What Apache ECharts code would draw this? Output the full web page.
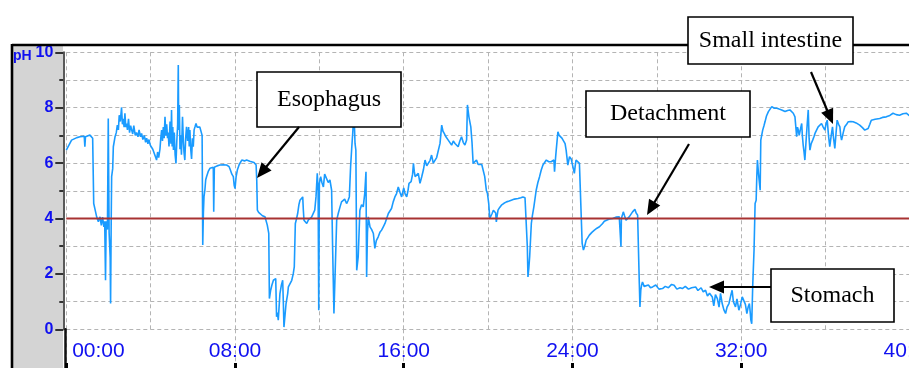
<!DOCTYPE html>
<html>
<head>
<meta charset="utf-8">
<script src="https://cdn.jsdelivr.net/npm/echarts@6/dist/echarts.min.js"></script>
<style>
html,body{margin:0;padding:0;background:#fff;overflow:hidden;width:909px;height:368px;}
#chart{width:940px;height:368px;}
</style>
</head>
<body>
<div id="chart"></div>
<script>
// Tick labels / axes
const yTickValues = [0, 2, 4, 6, 8, 10];
const xLabelHours = [0, 8, 16, 24, 32, 40];
const thresholdPH = 4;

// pH trace, [hours, pH] pairs
const segEarly = [[0,6.47],[0.25,6.83],[0.5,6.92],[0.65,6.95],[0.85,6.97],[0.88,6.59],[0.91,6.95],[1.12,7.01],[1.2,6.98],[1.25,6.9],[1.3,4.54],[1.37,4.3],[1.44,4.06],[1.52,3.88],[1.6,4.06],[1.66,3.75],[1.72,4.05],[1.78,3.7],[1.82,3.9],[1.86,1.77],[1.89,3.9],[1.95,3.6],[1.99,7.61],[2.03,3.5],[2.08,2.6],[2.1,0.93],[2.13,4.0],[2.15,5.51],[2.2,5.8],[2.23,6.59],[2.31,6.95],[2.37,7.1],[2.42,7.37],[2.47,7.2],[2.51,7.73],[2.56,7.5],[2.62,8.01],[2.66,7.4],[2.7,7.6],[2.74,7.3],[2.78,7.8],[2.82,7.3],[2.86,7.43],[2.9,7.2],[2.95,7.6],[3.0,7.1],[3.05,7.35],[3.1,7.19],[3.15,7.05],[3.2,7.35],[3.27,7.0],[3.33,7.1],[3.4,6.95],[3.45,7.2],[3.52,6.95],[3.57,7.07],[3.63,6.85],[3.7,7.0],[3.76,6.75],[3.81,6.9],[3.87,6.7],[3.92,6.85],[3.98,6.65],[4.04,6.7],[4.1,6.5],[4.18,6.45],[4.24,6.2],[4.28,6.11],[4.33,6.4],[4.38,6.2],[4.44,6.5],[4.48,6.9],[4.52,7.19],[4.56,6.8],[4.6,7.3],[4.64,6.9],[4.68,7.67],[4.72,7.0],[4.76,7.4],[4.8,6.9],[4.83,7.1],[4.87,6.6],[4.92,7.5],[4.96,6.7],[4.99,7.92],[5.02,6.6],[5.05,7.3],[5.08,6.47],[5.12,7.1],[5.16,6.3],[5.2,5.99],[5.24,6.8],[5.28,7.4],[5.31,9.54],[5.33,7.2],[5.36,8.1],[5.39,6.5],[5.42,7.0],[5.46,6.3],[5.51,7.67],[5.55,6.8],[5.58,6.4],[5.62,6.11],[5.66,6.9],[5.7,7.31],[5.75,6.8],[5.8,7.3],[5.83,6.6],[5.86,7.19],[5.9,6.5],[5.94,6.15],[5.98,6.9],[6.02,6.59],[6.06,7.2],[6.1,7.3],[6.15,7.43],[6.2,7.3],[6.26,7.37],[6.33,7.3],[6.41,7.31],[6.44,7.0],[6.47,3.04],[6.5,4.2],[6.53,4.8],[6.57,5.02],[6.61,5.4],[6.65,5.51],[6.73,5.7],[6.81,5.81],[6.9,5.85],[6.97,5.85],[6.99,4.24],[7.02,5.85],[7.15,5.9],[7.28,5.93],[7.45,5.94],[7.6,5.93],[7.72,5.87]];

const segEsophagus = [[7.78,5.75],[7.85,5.6],[7.92,5.51],[7.96,5.2],[8.0,5.08],[8.05,5.5],[8.11,5.75],[8.2,5.95],[8.32,6.11],[8.45,6.08],[8.55,6.11],[8.7,6.07],[8.79,6.05],[8.9,6.02],[9.0,5.93],[9.03,5.39],[9.06,4.3],[9.12,4.22],[9.18,4.18],[9.3,4.1],[9.42,4.06],[9.53,3.76],[9.6,3.46],[9.63,1.11],[9.69,1.41],[9.75,1.6],[9.82,1.77],[9.93,1.83],[9.97,0.45],[10.01,0.6],[10.05,0.33],[10.13,1.29],[10.2,1.6],[10.26,1.77],[10.29,1.0],[10.32,0.08],[10.37,0.5],[10.42,0.93],[10.5,1.3],[10.53,1.53],[10.62,1.6],[10.69,1.77],[10.76,2.0],[10.81,2.25],[10.86,3.82],[10.92,4.0],[10.97,4.18],[11.03,4.5],[11.08,4.66],[11.15,4.6],[11.21,4.78],[11.24,4.3],[11.27,3.94],[11.33,3.9],[11.4,3.82],[11.48,3.95],[11.55,3.88],[11.63,4.05],[11.71,4.0],[11.78,4.3],[11.84,4.78],[11.87,5.2],[11.9,5.63],[11.94,5.0],[11.97,0.69],[12.0,5.27],[12.06,5.51],[12.12,5.3],[12.19,5.14],[12.25,5.6],[12.34,5.63],[12.42,5.3],[12.5,5.39],[12.58,5.02],[12.63,2.86],[12.69,0.57],[12.76,2.37],[12.82,3.94],[12.9,4.2],[12.98,4.42],[13.05,4.6],[13.13,4.54],[13.2,4.7],[13.29,4.54],[13.36,4.65],[13.42,4.78],[13.48,5.87],[13.53,6.5],[13.58,7.07],[13.62,7.6],[13.66,7.4],[13.69,6.71],[13.73,6.47],[13.77,2.13],[13.84,2.61],[13.92,4.3],[14.0,4.5],[14.08,4.42],[14.15,4.9],[14.21,5.69],[14.24,1.89],[14.28,3.5],[14.32,4.06],[14.4,3.7],[14.48,3.6],[14.56,3.46],[14.63,2.92],[14.7,3.2],[14.79,3.34],[14.87,3.5],[14.95,3.58],[15.03,3.7],[15.11,3.82],[15.19,4.0],[15.27,4.18],[15.35,4.25],[15.42,4.36],[15.5,4.6],[15.58,4.78],[15.66,4.9],[15.74,5.14],[15.82,4.95],[15.9,4.78]];

const segMiddle = [[16.0,5.1],[16.06,4.9],[16.14,4.78],[16.2,5.0],[16.25,5.27],[16.35,5.33],[16.42,5.6],[16.46,5.99],[16.5,5.7],[16.54,5.51],[16.62,5.55],[16.69,5.63],[16.77,5.27],[16.85,5.5],[16.93,5.75],[17.01,6.11],[17.09,5.9],[17.17,5.87],[17.25,6.1],[17.32,6.29],[17.4,6.0],[17.48,5.99],[17.56,6.2],[17.64,6.23],[17.72,6.71],[17.8,7.37],[17.86,7.15],[17.92,7.07],[18.0,6.95],[18.11,6.83],[18.2,6.9],[18.27,6.65],[18.35,6.8],[18.43,6.71],[18.5,6.75],[18.58,6.59],[18.66,6.8],[18.74,6.95],[18.82,6.75],[18.9,6.65],[18.98,6.83],[19.02,8.1],[19.09,7.67],[19.18,7.31],[19.24,6.71],[19.29,5.99],[19.37,6.05],[19.45,6.11],[19.53,5.95],[19.61,5.93],[19.7,5.95],[19.76,5.93],[19.84,5.51],[19.92,5.0],[19.97,4.9],[20.03,4.54],[20.08,4.0],[20.14,4.1],[20.19,4.18],[20.25,4.3],[20.31,4.36],[20.36,4.2],[20.39,3.88],[20.43,4.1],[20.47,4.3],[20.55,4.4],[20.63,4.48],[20.75,4.55],[20.87,4.6],[21.0,4.63],[21.1,4.66],[21.25,4.7],[21.42,4.72],[21.55,4.75],[21.65,4.78],[21.75,4.75],[21.81,4.69],[21.86,2.98],[21.89,1.89],[21.93,2.2],[21.97,2.61],[22.05,3.82],[22.1,4.1],[22.17,4.42],[22.28,5.02],[22.36,5.3],[22.44,5.51],[22.52,5.75],[22.6,5.93],[22.68,6.0],[22.76,6.11],[22.88,6.05],[22.99,6.05],[23.12,6.11],[23.15,5.69],[23.2,6.2],[23.23,6.47],[23.27,6.8],[23.31,7.13],[23.37,7.0],[23.43,6.95],[23.5,6.9],[23.59,6.83],[23.65,6.7],[23.7,6.47],[23.74,6.2],[23.78,5.93],[23.86,6.23],[23.94,6.15],[24.02,6.11],[24.09,5.63],[24.13,5.9],[24.17,6.11],[24.25,6.05],[24.33,5.99],[24.41,5.93]];

const segStomach = [[24.46,3.1],[24.52,2.86],[24.58,3.0],[24.65,3.22],[24.72,3.3],[24.8,3.4],[24.92,3.5],[25.04,3.58],[25.16,3.65],[25.28,3.7],[25.36,3.75],[25.43,3.82],[25.51,3.9],[25.59,3.94],[25.75,3.98],[25.91,4.0],[26.06,4.05],[26.22,4.06],[26.28,4.0],[26.3,2.98],[26.32,4.0],[26.35,4.06],[26.41,4.24],[26.47,4.1],[26.54,3.94],[26.6,4.0],[26.69,4.06],[26.77,4.15],[26.85,4.24],[26.9,4.3],[26.96,4.33],[27.02,4.2],[27.09,4.12],[27.13,2.86],[27.17,1.65],[27.2,0.81],[27.24,1.41],[27.28,1.6],[27.32,1.71],[27.4,1.55],[27.48,1.53],[27.6,1.6],[27.7,1.5],[27.8,1.53],[27.95,1.6],[28.1,1.45],[28.27,1.47],[28.4,1.55],[28.55,1.5],[28.7,1.62],[28.82,1.59],[28.95,1.45],[29.1,1.5],[29.21,1.47],[29.35,1.55],[29.5,1.45],[29.65,1.5],[29.84,1.53],[29.95,1.4],[30.1,1.5],[30.2,1.35],[30.31,1.41],[30.4,1.2],[30.5,1.3],[30.63,1.17],[30.7,0.85],[30.78,1.25],[30.87,1.11],[30.95,0.8],[31.02,1.3],[31.1,0.93],[31.18,0.7],[31.26,0.57],[31.33,0.8],[31.42,0.93],[31.5,1.2],[31.57,1.41],[31.63,1.0],[31.73,0.81],[31.8,1.1],[31.89,0.69],[31.97,0.9],[32.05,1.17]];

const segIntestine = [[32.11,1.11],[32.2,0.9],[32.27,0.57],[32.33,0.8],[32.39,0.93],[32.43,0.6],[32.46,0.33],[32.5,0.2],[32.55,1.65],[32.61,2.86],[32.66,4.54],[32.71,4.66],[32.74,5.5],[32.77,6.11],[32.82,5.63],[32.9,5.02],[32.93,6.83],[33.02,7.19],[33.08,7.35],[33.13,7.49],[33.2,7.7],[33.29,7.86],[33.37,7.95],[33.45,8.04],[33.57,7.98],[33.69,7.98],[33.8,7.95],[33.92,7.92],[34.0,7.9],[34.08,7.86],[34.2,7.9],[34.31,7.92],[34.4,7.85],[34.47,7.8],[34.55,7.67],[34.63,6.95],[34.67,7.3],[34.71,7.19],[34.75,7.0],[34.79,6.95],[34.83,7.3],[34.87,7.43],[34.9,7.0],[34.94,6.65],[34.98,6.4],[35.02,6.11],[35.06,6.6],[35.1,7.07],[35.14,7.5],[35.18,7.92],[35.22,6.9],[35.26,6.47],[35.32,6.7],[35.39,6.83],[35.45,6.95],[35.5,7.07],[35.58,7.2],[35.65,7.31],[35.73,7.35],[35.81,7.43],[35.89,7.3],[35.97,7.19],[36.02,7.4],[36.08,7.55],[36.14,7.0],[36.2,6.59],[36.27,7.0],[36.33,7.31],[36.38,6.9],[36.44,6.53],[36.5,7.1],[36.55,7.55],[36.62,7.4],[36.68,7.31],[36.72,7.0],[36.76,6.83],[36.84,7.1],[36.91,7.31],[37.0,7.4],[37.07,7.49],[37.2,7.5],[37.31,7.49],[37.45,7.45],[37.62,7.37],[37.75,7.28],[37.86,7.19],[37.95,7.22],[38.02,7.25],[38.1,7.4],[38.17,7.55],[38.35,7.58],[38.57,7.61],[38.7,7.65],[38.88,7.67],[39.05,7.72],[39.2,7.8],[39.35,7.75],[39.51,7.73],[39.67,7.78],[39.83,7.8],[40,7.7]];

const traceData = segEarly.concat(segEsophagus, segMiddle, segStomach, segIntestine);

const blue = '#1010f0';
const gridColor = '#b4b4b4';
const chart = echarts.init(document.getElementById('chart'), null, {renderer: 'canvas'});

function arrow(x1, y1, x2, y2) {
  const dx = x2 - x1, dy = y2 - y1;
  const len = Math.sqrt(dx * dx + dy * dy);
  const ux = dx / len, uy = dy / len;
  const hl = 15, hw = 6.5;
  const bx = x2 - ux * hl, by = y2 - uy * hl;
  return [
    {type: 'line', z: 110, shape: {x1: x1, y1: y1, x2: bx + ux * 2, y2: by + uy * 2}, style: {stroke: '#000', lineWidth: 2.2}},
    {type: 'polygon', z: 110, shape: {points: [[x2, y2], [bx - uy * hw, by + ux * hw], [bx + uy * hw, by - ux * hw]]}, style: {fill: '#000'}}
  ];
}
function box(x, y, w, h, text) {
  return [
    {type: 'rect', z: 105, shape: {x: x, y: y, width: w, height: h}, style: {fill: '#fff', stroke: '#000', lineWidth: 1.6}},
    {type: 'text', z: 106, x: x + w / 2, y: y + h / 2, style: {text: text, fill: '#000', font: '24px "Liberation Serif", "Times New Roman", serif', align: 'center', verticalAlign: 'middle'}}
  ];
}

const graphics = [].concat(
  [
    {type: 'rect', z: -5, shape: {x: 12, y: 45, width: 51, height: 330}, style: {fill: '#d4d4d4'}},
    {type: 'line', z: 100, shape: {x1: 12, y1: 45, x2: 940, y2: 45}, style: {stroke: '#000', lineWidth: 2.6}},
    {type: 'line', z: 100, shape: {x1: 12, y1: 44, x2: 12, y2: 370}, style: {stroke: '#000', lineWidth: 2.6}},
    {type: 'text', z: 100, x: 13, y: 49, style: {text: 'pH', fill: blue, font: 'bold 14px "Liberation Sans", Arial, sans-serif'}}
  ],
  box(257, 72, 144, 55, 'Esophagus'),
  arrow(299, 127, 257, 178),
  box(586, 91, 164, 46, 'Detachment'),
  arrow(689, 144, 647, 215),
  box(688, 17, 165, 47, 'Small intestine'),
  arrow(811, 72, 833, 124),
  box(771, 269, 123, 53, 'Stomach'),
  arrow(771, 287, 709, 287)
);

const option = {
  animation: false,
  backgroundColor: '#fff',
  grid: [
    {left: 66.3, right: 30.1, top: 52.3, height: 277},
    {left: 66.3, right: 30.1, top: 329.3, height: 38.7}
  ],
  xAxis: [
    {gridIndex: 0, type: 'value', min: 0, max: 40, interval: 4,
     axisLine: {show: false}, axisTick: {show: false}, axisLabel: {show: false},
     splitLine: {show: true, lineStyle: {color: gridColor, type: [4, 3], width: 1}}},
    {gridIndex: 1, type: 'value', min: 0, max: 40, interval: 4,
     axisLine: {show: false},
     axisTick: {show: true, inside: true, length: 5, customValues: xLabelHours, lineStyle: {color: '#000', width: 3}},
     axisLabel: {show: true, inside: true, margin: 6, color: blue, fontSize: 21, lineHeight: 21,
       fontFamily: '"Liberation Sans", Arial, sans-serif', alignMinLabel: 'left',
       formatter: function (v) {
         if (xLabelHours.indexOf(v) < 0) return '';
         const s = (v < 10 ? '0' : '') + v + ':00';
         return v === 0 ? ' ' + s : s;
       }},
     splitLine: {show: true, lineStyle: {color: gridColor, type: [4, 3], width: 1}}}
  ],
  yAxis: [
    {gridIndex: 0, type: 'value', min: yTickValues[0], max: yTickValues[yTickValues.length - 1], interval: 2, offset: 3,
     axisLine: {show: true, onZero: false, lineStyle: {color: '#5a5a5a', width: 2}},
     axisTick: {show: true, length: 8, lineStyle: {color: '#333', width: 2}},
     minorTick: {show: true, splitNumber: 2, length: 4, lineStyle: {color: '#333', width: 2}},
     axisLabel: {show: true, margin: 10, color: blue, fontSize: 16, fontWeight: 'bold', fontFamily: '"Liberation Sans", Arial, sans-serif'},
     splitLine: {show: true, lineStyle: {color: gridColor, type: [4, 3], width: 1}},
     minorSplitLine: {show: true, lineStyle: {color: gridColor, type: [4, 3], width: 1}}},
    {gridIndex: 1, type: 'value', min: 0, max: 1, offset: 1,
     axisLine: {show: true, onZero: false, lineStyle: {color: '#111', width: 2.5}},
     axisTick: {show: false}, axisLabel: {show: false}, splitLine: {show: false}}
  ],
  series: [
    {type: 'line', xAxisIndex: 0, yAxisIndex: 0, data: traceData, showSymbol: false, symbol: 'none',
     sampling: null, z: 2, lineStyle: {color: '#1a9bff', width: 1.6}},
    {type: 'line', xAxisIndex: 0, yAxisIndex: 0, data: [[0, thresholdPH], [40, thresholdPH]], showSymbol: false, symbol: 'none',
     z: 3, lineStyle: {color: '#a83232', width: 2}}
  ],
  graphic: {elements: graphics}
};
chart.setOption(option);
</script>
</body>
</html>
